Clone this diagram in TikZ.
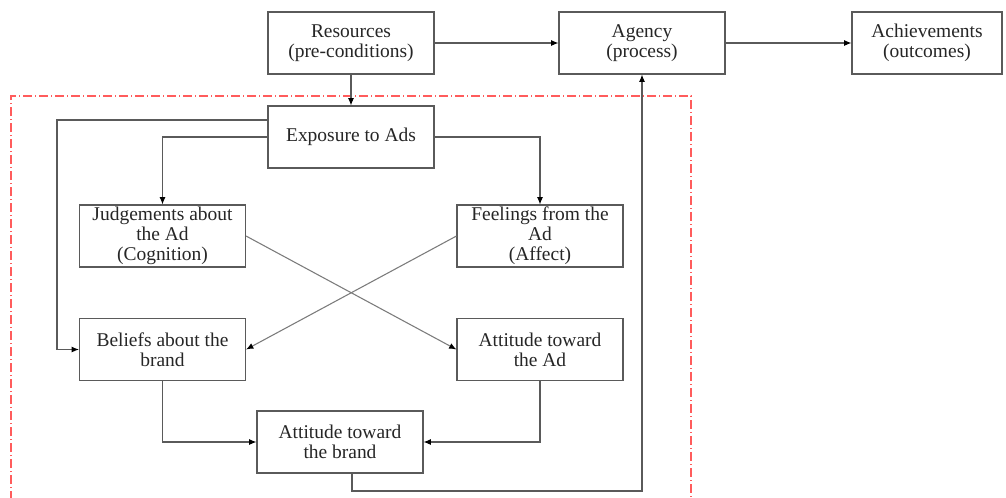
\documentclass[tikz,border=0pt]{standalone}
\usepackage{fontspec}
\setmainfont{Liberation Serif}
\usetikzlibrary{arrows.meta}
\definecolor{boxline}{HTML}{5A5A5A}
\definecolor{txt}{HTML}{262626}
\definecolor{dashred}{HTML}{FF5C5C}
\tikzset{
	blk/.style={draw=boxline, line width=0.8pt, fill=white, text=txt, align=center, inner sep=0pt,
		minimum width=124.5pt, minimum height=46.5pt, font=\fontsize{14.6}{15}\selectfont},
	arr/.style={draw=boxline, line width=0.8pt, -{Latex[length=5.5pt,width=4.5pt,color=black]}},
	cross/.style={draw=boxline!80, line width=0.8pt, -{Latex[length=5.5pt,width=4.5pt,color=black]}},
	redbox/.style={draw=dashred, line width=0.8pt, dash pattern=on 7pt off 2pt on 1pt off 2pt}
}

\begin{document}
\begin{tikzpicture}[x=0.75pt, y=-0.75pt]
			%%%%% START %%%%%
			\useasboundingbox (0, 0) rectangle (1006, 497);
			
			\draw[redbox] (11, 500) -- (11, 96) -- (691, 96) -- (691, 500);
			
			\node[blk] (res) at (351, 43) {Resources\\(pre-conditions)};
			\node[blk] (agency) at (642, 43) {Agency\\(process)};
			\node[blk, minimum width=112.5pt] (achieve) at (927, 43) {Achievements\\(outcomes)};
			
			\node[blk] (expo) at (351, 137) {Exposure to Ads};
			
			\node[blk] (judge) at (162.5, 236) {Judgements about\\the Ad\\(Cognition)};
			\node[blk] (feel) at (540, 236) {Feelings from the\\Ad\\(Affect)};
			
			\node[blk] (belief) at (162.5, 349.5) {Beliefs about the\\brand};
			\node[blk] (attad) at (540, 349.5) {Attitude toward\\the Ad};
			
			\node[blk] (attbrand) at (340, 442) {Attitude toward\\the brand};
			
			\coordinate (lft) at (57, 120);
			\coordinate (btm) at (642, 491);
			
			\draw[arr] (res) -- (agency);
			\draw[arr] (agency) -- (achieve);
			\draw[arr] (res) -- (expo);
			
			\draw[arr] ([yshift=12.75pt]expo.west) -- (lft) |- (belief.west);
			\draw[arr] (expo.west) -| (judge.north);
			\draw[arr] (expo.east) -| (feel.north);
			
			\draw[cross] (judge.east) -- (attad.west);
			\draw[cross] (feel.west) -- (belief.east);
			
			\draw[arr] (belief.south) |- (attbrand.west);
			\draw[arr] (attad.south) |- (attbrand.east);
			
			\draw[arr] ([xshift=9pt]attbrand.south) |- (btm) -- (agency.south);
			%%%%% END %%%%%
\end{tikzpicture}
\end{document}
